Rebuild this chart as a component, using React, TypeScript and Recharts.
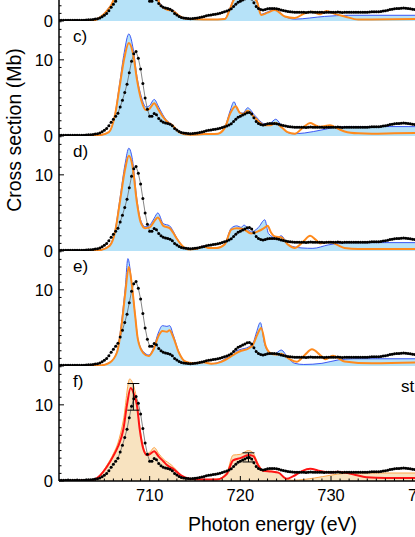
import React from "react";
import { Area, ComposedChart, ErrorBar, Line, Scatter, XAxis, YAxis } from "recharts";

const FONT = "'Liberation Sans', Arial, sans-serif";

const X_DOMAIN: [number, number] = [700, 745];
const Y_DOMAIN: [number, number] = [0, 15.1];
const X_TICKS = [
  701, 702, 703, 704, 705, 706, 707, 708, 709, 710, 711, 712, 713, 714, 715,
  716, 717, 718, 719, 720, 721, 722, 723, 724, 725, 726, 727, 728, 729, 730,
  731, 732, 733, 734, 735, 736, 737, 738, 739, 740, 741, 742, 743, 744,
];
const X_LABELS = [710, 720, 730, 740];
const Y_TICKS = [0, 1, 2, 3, 4, 5, 6, 7, 8, 9, 10, 11, 12, 13, 14, 15];
const Y_LABELS = [0, 10];

// experiment (dots), same in every panel
const EXP: number[][] = [
  [700, 0.1], [700.25, 0.1], [700.5, 0.1], [700.75, 0.1], [701, 0.1], [701.25, 0.1],
  [701.5, 0.1], [701.75, 0.1], [702, 0.1], [702.25, 0.1], [702.5, 0.1], [702.75, 0.11],
  [703, 0.12], [703.25, 0.15], [703.5, 0.18], [703.75, 0.21], [704, 0.25], [704.25, 0.3],
  [704.5, 0.4], [704.75, 0.55], [705, 0.75], [705.25, 1.0], [705.5, 1.35], [705.75, 1.8],
  [706, 2.2], [706.25, 2.6], [706.5, 3.0], [706.75, 3.8], [707, 4.7], [707.25, 5.7],
  [707.5, 6.8], [707.75, 8.3], [708, 9.8], [708.25, 10.8], [708.5, 11.1], [708.75, 10.2],
  [709, 8.8], [709.25, 6.9], [709.5, 5.0], [709.75, 3.5], [710, 2.6], [710.25, 2.6],
  [710.5, 2.95], [710.75, 2.8], [711, 2.3], [711.25, 2.0], [711.5, 1.8], [711.75, 1.7],
  [712, 1.65], [712.25, 1.55], [712.5, 1.35], [712.75, 1.0], [713, 0.8], [713.25, 0.6],
  [713.5, 0.45], [713.75, 0.4], [714, 0.35], [714.25, 0.32], [714.5, 0.3], [714.75, 0.32],
  [715, 0.35], [715.25, 0.4], [715.5, 0.45], [715.75, 0.52], [716, 0.6], [716.25, 0.68],
  [716.5, 0.75], [716.75, 0.8], [717, 0.85], [717.25, 0.9], [717.5, 0.95], [717.75, 1.02],
  [718, 1.1], [718.25, 1.2], [718.5, 1.3], [718.75, 1.45], [719, 1.6], [719.25, 1.9],
  [719.5, 2.2], [719.75, 2.45], [720, 2.6], [720.25, 2.75], [720.5, 2.9], [720.75, 3.05],
  [721, 3.1], [721.25, 2.9], [721.5, 2.4], [721.75, 1.9], [722, 1.65], [722.25, 1.5],
  [722.5, 1.45], [722.75, 1.5], [723, 1.6], [723.25, 1.63], [723.5, 1.65], [723.75, 1.63],
  [724, 1.6], [724.25, 1.53], [724.5, 1.45], [724.75, 1.38], [725, 1.3], [725.25, 1.25],
  [725.5, 1.2], [725.75, 1.17], [726, 1.15], [726.25, 1.14], [726.5, 1.15], [726.75, 1.16],
  [727, 1.15], [727.25, 1.13], [727.5, 1.15], [727.75, 1.17], [728, 1.15], [728.25, 1.14],
  [728.5, 1.15], [728.75, 1.16], [729, 1.15], [729.25, 1.13], [729.5, 1.15], [729.75, 1.16],
  [730, 1.15], [730.25, 1.14], [730.5, 1.15], [730.75, 1.17], [731, 1.15], [731.25, 1.13],
  [731.5, 1.15], [731.75, 1.16], [732, 1.15], [732.25, 1.14], [732.5, 1.15], [732.75, 1.16],
  [733, 1.15], [733.25, 1.14], [733.5, 1.15], [733.75, 1.16], [734, 1.16], [734.25, 1.18],
  [734.5, 1.2], [734.75, 1.2], [735, 1.2], [735.25, 1.22], [735.5, 1.25], [735.75, 1.3],
  [736, 1.35], [736.25, 1.42], [736.5, 1.5], [736.75, 1.55], [737, 1.6], [737.25, 1.63],
  [737.5, 1.65], [737.75, 1.68], [738, 1.7], [738.25, 1.68], [738.5, 1.65], [738.75, 1.6],
  [739, 1.55], [739.25, 1.52], [739.5, 1.5], [739.75, 1.47], [740, 1.45], [741, 1.4],
  [742, 1.4], [743, 1.4], [744, 1.4], [745, 1.4],
];

const B_BLUE: number[][] = [
  [700, 0], [703.5, 0], [704.5, 0.5], [705.4, 1.6], [706, 2.8], [706.7, 7], [707.5, 12],
  [708.3, 10], [709, 5], [710, 4], [710.7, 4.5], [711.1, 2.4], [711.9, 1.6], [712.6, 1.4],
  [713.3, 0.7], [714, 0.3], [716, 0.2], [717.5, 0.2], [718.3, 0.3], [718.9, 1.8],
  [719.3, 3], [720.5, 4], [721.8, 2.8], [722.3, 0.9], [723, 1.2], [723.8, 1.55],
  [724.9, 0.6], [726, 0.25], [729.3, 0.6], [731.9, 0.75], [745, 0.75],
];
const B_ORANGE: number[][] = [
  [700, 0], [703.5, 0], [704.5, 0.45], [705.4, 1.5], [706, 2.7], [706.7, 6.5], [707.5, 11],
  [708.3, 9], [709, 4.6], [710, 3.7], [710.7, 4.1], [711.1, 2.2], [711.9, 1.5], [712.6, 1.3],
  [713.3, 0.65], [714, 0.3], [716, 0.2], [717.5, 0.2], [718.3, 0.25], [718.9, 1.7],
  [719.3, 2.8], [720.5, 3.6], [721.8, 2.6], [722.3, 0.8], [723, 1.1], [723.8, 1.45],
  [724.9, 0.6], [726, 0.4], [727.1, 1.0], [727.9, 1.2], [728.8, 0.9], [729.5, 1.3],
  [730.5, 0.9], [731.5, 0.6], [733, 0.2], [745, 0.3],
];

const C_BLUE: number[][] = [
  [700, 0], [703.5, 0], [704.5, 0.1], [705.5, 0.5], [706.2, 3.0], [706.7, 7.0], [707.2, 11.0],
  [707.7, 13.4], [708.2, 11.3], [708.6, 7.8], [709.1, 5.1], [709.6, 3.8], [710.0, 4.0],
  [710.5, 4.8], [711.0, 3.8], [711.6, 2.5], [712.0, 1.9], [712.5, 1.5], [713.3, 0.5],
  [714.4, 0.2], [716, 0.3], [717.5, 0.3], [718.3, 1.2], [718.9, 3.4], [719.3, 4.5],
  [719.7, 3.4], [720.3, 3.0], [720.8, 3.7], [721.6, 2.7], [722.7, 1.6], [723.3, 1.7],
  [723.9, 2.2], [724.4, 1.6], [724.9, 0.7], [725.8, 0.3], [727.1, 0.4], [729, 0.8],
  [730.8, 1.2], [732, 1.25], [745, 1.2],
];
const C_ORANGE: number[][] = [
  [700, 0], [703.5, 0], [704.5, 0.1], [705.5, 0.5], [706.2, 2.9], [706.7, 6.6], [707.2, 10.2],
  [707.7, 12.2], [708.2, 10.6], [708.6, 7.4], [709.1, 4.6], [709.6, 3.4], [710.0, 3.6],
  [710.5, 4.3], [711.0, 3.4], [711.6, 2.3], [712.0, 1.8], [712.5, 1.4], [713.3, 0.45],
  [714.4, 0.15], [716, 0.25], [717.5, 0.3], [718.3, 1.1], [718.9, 3.0], [719.5, 3.9],
  [719.9, 3.1], [720.3, 2.9], [720.8, 3.3], [721.6, 2.4], [722.7, 1.4], [723.3, 1.4],
  [723.9, 1.7], [724.5, 1.2], [725.2, 0.5], [726.0, 0.3], [727.0, 1.2], [727.7, 1.7],
  [728.3, 1.4], [728.8, 1.2], [729.9, 1.4], [730.7, 1.0], [731.5, 0.6], [733, 0.35],
  [734.5, 0.3], [737, 0.35], [745, 0.45],
];

const D_BLUE: number[][] = [
  [700, 0], [703.5, 0], [704.5, 0.1], [705.6, 0.8], [706.2, 2.8], [706.7, 6.7], [707.3, 11.5],
  [707.7, 13.5], [708.1, 12.0], [708.6, 6.7], [709.0, 4.1], [709.5, 3.2], [710.0, 3.4],
  [710.5, 4.3], [710.9, 5.0], [711.5, 3.6], [712.2, 3.3], [712.6, 2.6], [713.0, 1.7],
  [713.7, 0.6], [714.3, 0.2], [715.2, 0.3], [715.9, 0.7], [716.5, 0.4], [717.4, 0.4],
  [718.3, 1.0], [719.0, 3.0], [719.6, 3.3], [720.1, 3.1], [720.4, 3.4], [721.2, 2.5],
  [722.0, 3.1], [722.7, 4.1], [723.1, 2.3], [724.0, 1.7], [724.5, 2.0], [725.3, 0.8],
  [726.8, 0.4], [728, 0.35], [729.7, 0.8], [731.9, 1.1], [745, 1.1],
];
const D_ORANGE: number[][] = [
  [700, 0], [703.5, 0], [704.5, 0.1], [705.6, 0.7], [706.2, 2.6], [706.7, 6.3], [707.3, 10.8],
  [707.7, 12.5], [708.1, 11.2], [708.6, 6.3], [709.0, 3.8], [709.5, 3.0], [710.0, 3.1],
  [710.5, 3.9], [710.9, 4.4], [711.5, 3.3], [712.2, 3.0], [712.6, 2.4], [713.0, 1.6],
  [713.7, 0.55], [714.3, 0.2], [715.2, 0.3], [715.9, 0.6], [716.5, 0.4], [717.4, 0.4],
  [718.3, 0.9], [719.0, 2.8], [719.6, 3.0], [720.3, 2.9], [721.2, 2.3], [722.0, 2.6],
  [722.6, 3.0], [723.0, 3.3], [723.4, 2.4], [723.8, 1.9], [724.5, 1.8], [725.2, 0.9],
  [726.0, 0.4], [726.9, 1.2], [727.7, 2.0], [728.3, 1.5], [728.8, 1.0], [729.9, 1.2],
  [730.7, 0.8], [731.5, 0.4], [733, 0.25], [737, 0.25], [745, 0.4],
];

const E_BLUE: number[][] = [
  [700, 0], [703.5, 0], [704.5, 0.05], [705.6, 0.5], [706.4, 1.9], [706.9, 5.8], [707.3, 10.2],
  [707.6, 14.1], [708.0, 11.1], [708.4, 6.7], [708.7, 3.6], [709.3, 1.9], [709.9, 1.45],
  [710.4, 2.3], [711.0, 4.5], [711.4, 5.3], [711.9, 5.2], [712.2, 5.3], [712.6, 4.1],
  [713.2, 1.9], [713.9, 0.65], [714.8, 0.35], [715.9, 0.55], [716.8, 0.3], [717.9, 0.65],
  [718.9, 1.45], [719.4, 1.9], [720.1, 2.2], [720.9, 2.5], [721.4, 3.0], [721.8, 4.5],
  [722.2, 5.7], [722.7, 2.8], [723.3, 1.7], [723.8, 1.6], [724.5, 2.1], [725.3, 1.0],
  [726.0, 0.35], [727, 0.2], [729, 0.35], [730.8, 0.8], [732.5, 0.95], [745, 0.95],
];
const E_ORANGE: number[][] = [
  [700, 0], [703.5, 0], [704.5, 0.05], [705.6, 0.45], [706.4, 1.8], [706.9, 5.3], [707.3, 9.5],
  [707.7, 13.0], [708.0, 11.0], [708.4, 6.6], [708.7, 3.5], [709.3, 1.7], [709.9, 1.3],
  [710.4, 2.1], [711.0, 4.0], [711.4, 4.6], [711.9, 4.5], [712.2, 4.7], [712.6, 3.8],
  [713.2, 1.8], [713.9, 0.6], [714.8, 0.35], [715.9, 0.5], [716.8, 0.3], [717.9, 0.55],
  [718.9, 1.2], [719.4, 1.6], [720.1, 2.0], [720.9, 2.3], [721.4, 2.8], [721.9, 4.2],
  [722.3, 5.0], [722.8, 2.6], [723.3, 1.7], [723.9, 1.5], [724.5, 1.6], [725.3, 1.0],
  [726.2, 0.55], [727.1, 1.45], [727.9, 2.2], [728.8, 1.45], [729.4, 0.9], [730.2, 1.35],
  [731.5, 0.6], [734.5, 0.35], [745, 0.7],
];

const F_FILL: number[][] = [
  [700, 0], [703.5, 0], [704.5, 0.75], [705.3, 2.1], [706.0, 3.6], [706.5, 5.0], [707.1, 8.0],
  [707.8, 13.4], [708.3, 12.2], [708.6, 10.5], [708.9, 7.2], [709.3, 4.5], [709.7, 3.6],
  [710.1, 3.9], [710.5, 4.4], [711.0, 3.6], [711.5, 2.9], [712.4, 2.1], [712.9, 1.5],
  [713.5, 0.75], [714.4, 0.3], [716, 0.2], [717.4, 0.25], [718.5, 1.1], [719.2, 3.4],
  [720, 3.5], [720.9, 4.0], [721.4, 3.7], [722.0, 2.2], [722.5, 1.4], [723.4, 1.3],
  [724.2, 1.1], [725.1, 0.3], [725.8, 0.1], [728.2, 0.4], [729.9, 0.75], [731.5, 1.0],
  [733, 1.05], [745, 1.05],
];
const F_RED: number[][] = [
  [700, 0], [703.5, 0.05], [704.5, 0.7], [705.3, 1.9], [706.0, 3.3], [706.5, 4.5], [707.1, 6.8],
  [707.5, 10.0], [707.9, 12.2], [708.3, 11.3], [708.6, 9.9], [708.9, 6.8], [709.3, 4.2],
  [709.7, 3.4], [710.1, 3.6], [710.5, 3.9], [711.0, 3.2], [711.5, 2.6], [711.9, 2.1],
  [712.6, 1.6], [713.5, 0.7], [714.4, 0.3], [716, 0.2], [717.4, 0.2], [718.5, 0.9],
  [719.2, 2.7], [720.0, 3.0], [720.9, 3.4], [721.4, 3.3], [722.0, 2.0], [722.5, 1.35],
  [723.4, 1.25], [724.2, 1.1], [725.1, 0.3], [725.8, 0.6], [726.8, 1.3], [727.7, 1.6],
  [728.8, 1.3], [729.9, 1.1], [730.7, 1.2], [731.5, 1.1], [732.7, 0.8], [733.9, 0.5],
  [736, 0.4], [745, 0.4],
];

// error bars on the experiment in panel f
const ERR_E = [708.2, 720.9];
const ERR_Y = [11.05, 3.1];
const ERR_D = [1.75, 0.6];

const PLOT_LEFT = 59;
const PANEL_H = 115;
const CHART_W = 467;
const PAD = 10;

const pts = (a: number[][]) => a.map(([x, y]) => ({ x, y }));

function xTick(showLabel: boolean) {
  return (p: any) => {
    const v = p.payload.value;
    const major = X_LABELS.includes(v);
    return (
      <g>
        <line x1={p.x} x2={p.x} y1={p.y} y2={p.y - (major ? 5 : 2.5)} stroke="#000" strokeWidth={1} />
        {showLabel && major && (
          <text x={p.x} y={p.y + 20} textAnchor="middle" fontSize={16.5} fontFamily={FONT} fill="#000">
            {v}
          </text>
        )}
      </g>
    );
  };
}

function yTick(p: any) {
  const v = p.payload.value;
  const major = Y_LABELS.includes(v);
  return (
    <g>
      <line x1={p.x} x2={p.x + (major ? 5 : 2.5)} y1={p.y} y2={p.y} stroke="#000" strokeWidth={1} />
      {major && (
        <text x={p.x - 6} y={p.y + 6} textAnchor="end" fontSize={16.5} fontFamily={FONT} fill="#000">
          {v}
        </text>
      )}
    </g>
  );
}

interface PanelProps {
  top: number;
  blue?: number[][];
  orange?: number[][];
  fill?: number[][];
  red?: number[][];
  last?: boolean;
}

function Panel({ top, blue, orange, fill, red, last }: PanelProps) {
  const xh = last ? 25 : 0;
  const bottom = last ? 0 : PAD;
  const errs = ERR_E.map((x, i) => ({ x, y: ERR_Y[i], err: ERR_D[i] }));
  return (
    <div style={{ position: "absolute", left: 0, top: top - PAD }}>
      <ComposedChart
        width={CHART_W}
        height={PANEL_H + PAD + bottom + xh}
        margin={{ top: PAD, right: 0, bottom, left: 0 }}
      >
        <XAxis
          type="number"
          dataKey="x"
          domain={X_DOMAIN}
          allowDataOverflow
          ticks={X_TICKS}
          interval={0}
          tick={xTick(!!last)}
          tickLine={false}
          tickSize={0}
          tickMargin={0}
          height={xh}
          axisLine={{ stroke: "#000", strokeWidth: 1.5 }}
        />
        <YAxis
          type="number"
          dataKey="y"
          domain={Y_DOMAIN}
          allowDataOverflow
          ticks={Y_TICKS}
          interval={0}
          tick={yTick}
          tickLine={false}
          tickSize={0}
          tickMargin={0}
          width={PLOT_LEFT}
          axisLine={{ stroke: "#000", strokeWidth: 1.5 }}
        />
        {blue && (
          <Area
            data={pts(blue)}
            dataKey="y"
            type="monotone"
            stroke="#3b57f5"
            strokeWidth={1}
            fill="#b6e2f8"
            fillOpacity={1}
            isAnimationActive={false}
          />
        )}
        {fill && (
          <Area
            data={pts(fill)}
            dataKey="y"
            type="monotone"
            stroke="#ffa64a"
            strokeWidth={1}
            fill="#f8e3c0"
            fillOpacity={1}
            isAnimationActive={false}
          />
        )}
        <Line
          data={pts(EXP)}
          dataKey="y"
          type="linear"
          stroke="#666"
          strokeWidth={0.8}
          dot={{ r: 1.5, fill: "#000", stroke: "none" }}
          activeDot={false}
          isAnimationActive={false}
        />
        {orange && (
          <Line
            data={pts(orange)}
            dataKey="y"
            type="monotone"
            stroke="#ff8a1c"
            strokeWidth={2}
            dot={false}
            isAnimationActive={false}
          />
        )}
        {red && (
          <Line
            data={pts(red)}
            dataKey="y"
            type="monotone"
            stroke="#ff1414"
            strokeWidth={2}
            dot={false}
            isAnimationActive={false}
          />
        )}
        {last && (
          <Scatter data={errs} dataKey="y" fill="transparent" isAnimationActive={false}>
            <ErrorBar dataKey="err" direction="y" width={6} stroke="#000" strokeWidth={1} isAnimationActive={false} />
          </Scatter>
        )}
      </ComposedChart>
    </div>
  );
}

const PANEL_TOPS = [-94, 21, 136, 251, 366];
const PANEL_NAMES = ["", "c)", "d)", "e)", "f)"];

export default function App() {
  return (
    <div
      style={{
        position: "fixed",
        left: 0,
        top: 0,
        width: 415,
        height: 537,
        overflow: "hidden",
        background: "#fff",
        fontFamily: FONT,
      }}
    >
      <Panel top={PANEL_TOPS[0]} blue={B_BLUE} orange={B_ORANGE} />
      <Panel top={PANEL_TOPS[1]} blue={C_BLUE} orange={C_ORANGE} />
      <Panel top={PANEL_TOPS[2]} blue={D_BLUE} orange={D_ORANGE} />
      <Panel top={PANEL_TOPS[3]} blue={E_BLUE} orange={E_ORANGE} />
      <Panel top={PANEL_TOPS[4]} fill={F_FILL} red={F_RED} last />
      <svg width={415} height={537} style={{ position: "absolute", left: 0, top: 0, pointerEvents: "none" }}>
        {PANEL_NAMES.map((n, i) =>
          n ? (
            <text key={n} x={73} y={PANEL_TOPS[i] + 20.5} fontSize={17} fontFamily={FONT} fill="#000">
              {n}
            </text>
          ) : null
        )}
        <text x={401} y={392} fontSize={17} fontFamily={FONT} fill="#000">
          st
        </text>
        <text x={272.5} y={531} textAnchor="middle" fontSize={19.5} fontFamily={FONT} fill="#000">
          Photon energy (eV)
        </text>
        <text
          transform="translate(21, 130) rotate(-90)"
          textAnchor="middle"
          fontSize={19.5}
          fontFamily={FONT}
          fill="#000"
        >
          Cross section (Mb)
        </text>
      </svg>
    </div>
  );
}
